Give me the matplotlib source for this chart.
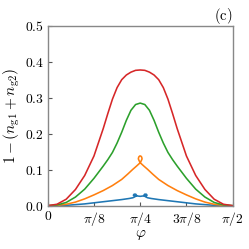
import numpy as np
import matplotlib
matplotlib.use("Agg")
import matplotlib.pyplot as plt

plt.rcParams['mathtext.fontset'] = 'cm'
plt.rcParams['font.family'] = 'serif'
plt.rcParams['font.serif'] = ['cmr10', 'DejaVu Serif']
plt.rcParams['axes.formatter.use_mathtext'] = True

# phi given in units of pi/2
t_half = [0.0, 0.05, 0.1, 0.15, 0.2, 0.25, 0.3, 0.325, 0.35, 0.375, 0.4, 0.425, 0.45, 0.475, 0.5]
red_half = [0.0, 0.004, 0.018, 0.045, 0.084, 0.138, 0.214, 0.256, 0.296, 0.328, 0.350, 0.363, 0.371, 0.376, 0.377]
green_half = [0.0, 0.002, 0.009, 0.024, 0.046, 0.076, 0.110, 0.128, 0.148, 0.174, 0.204, 0.237, 0.265, 0.281, 0.285]

t_orange_left = [0.0, 0.05, 0.1, 0.15, 0.2, 0.25, 0.3, 0.35, 0.4, 0.433, 0.46, 0.48, 0.495]
orange_left = [0.0, 0.001, 0.004, 0.010, 0.019, 0.030, 0.042, 0.056, 0.073, 0.088, 0.101, 0.110, 0.117]
t_orange_loop = [0.505, 0.510, 0.508, 0.503, 0.497, 0.492, 0.490, 0.495]
orange_loop = [0.124, 0.130, 0.135, 0.138, 0.138, 0.135, 0.130, 0.124]

t_blue_left = [0.0, 0.05, 0.1, 0.15, 0.2, 0.25, 0.3, 0.35, 0.4, 0.44, 0.46]
blue_left = [0.0, 0.0, 0.001, 0.003, 0.005, 0.008, 0.011, 0.014, 0.017, 0.020, 0.022]
t_blue_loop = [0.472, 0.480, 0.476, 0.467, 0.463, 0.470, 0.485, 0.500, 0.515, 0.530, 0.537, 0.533, 0.524, 0.520, 0.528]
blue_loop = [0.025, 0.029, 0.032, 0.032, 0.029, 0.027, 0.027, 0.026, 0.027, 0.027, 0.029, 0.032, 0.032, 0.029, 0.025]

colors = ['#1f77b4', '#ff7f0e', '#2ca02c', '#d62728']


def mirror(t, v):
    t = list(t)
    v = list(v)
    return t + [1 - x for x in t[::-1]], v + v[::-1]


t_red, red = mirror(t_half, red_half)
t_green, green = mirror(t_half, green_half)
t_o, orange = mirror(t_orange_left, orange_left)
n = len(t_orange_left)
t_o = t_o[:n] + t_orange_loop + t_o[n:]
orange = orange[:n] + orange_loop + orange[n:]
t_b, blue = mirror(t_blue_left, blue_left)
n = len(t_blue_left)
t_b = t_b[:n] + t_blue_loop + t_b[n:]
blue = blue[:n] + blue_loop + blue[n:]

fig = plt.figure(figsize=(2.49, 2.49), dpi=100)
ax = fig.add_axes([0.1916, 0.1739, 0.7429, 0.7229])

lw = 1.15
ax.plot(np.pi / 2 * np.array(t_b), blue, color=colors[0], lw=lw)
ax.plot(np.pi / 2 * np.array(t_o), orange, color=colors[1], lw=lw)
ax.plot(np.pi / 2 * np.array(t_green), green, color=colors[2], lw=lw)
ax.plot(np.pi / 2 * np.array(t_red), red, color=colors[3], lw=lw)

ax.set_xlim(0, np.pi / 2)
ax.set_ylim(0, 0.5)
ax.set_xticks([0, np.pi / 8, np.pi / 4, 3 * np.pi / 8, np.pi / 2])
ax.set_xticklabels(['$0$', r'$\pi/8$', r'$\pi/4$', r'$3\pi/8$', r'$\pi/2$'])
ax.set_yticks([0, 0.1, 0.2, 0.3, 0.4, 0.5])
ax.set_yticklabels(['$0.0$', '$0.1$', '$0.2$', '$0.3$', '$0.4$', '$0.5$'])
ax.tick_params(direction='in', length=3, width=0.8, color='#555555', labelsize=9.8, pad=3)
for s in ax.spines.values():
    s.set_color('#888888')
    s.set_linewidth(1.0)
ax.set_xlabel(r'$\varphi$', fontsize=11, labelpad=0)
ax.set_ylabel(r'$1-(n_{\mathrm{g}1}+n_{\mathrm{g}2})$', fontsize=11, labelpad=2)
ax.text(1.0, 1.055, '$(\\mathrm{c})$', transform=ax.transAxes, ha='right', va='center', fontsize=10.5)

fig.savefig('out.png', dpi=100)
